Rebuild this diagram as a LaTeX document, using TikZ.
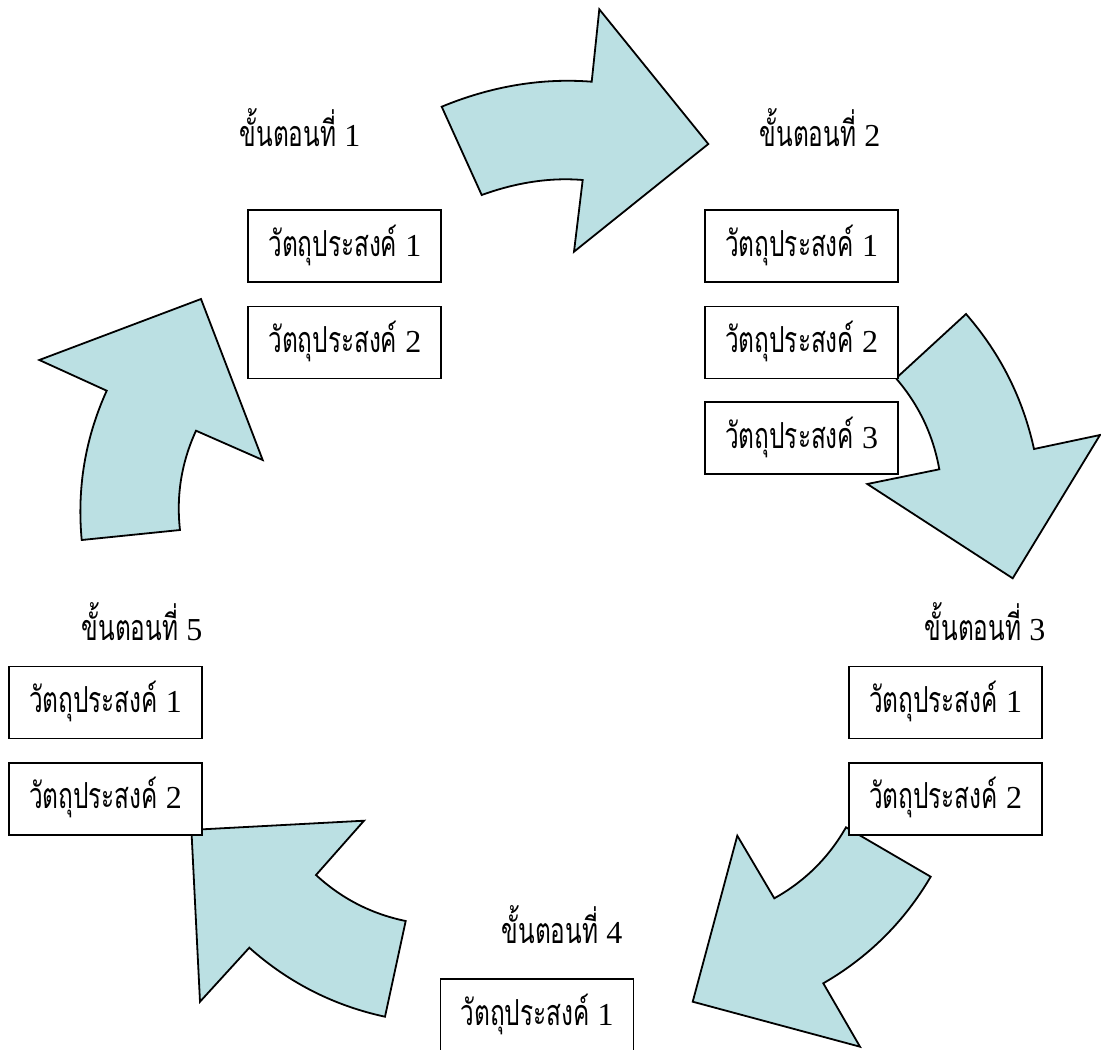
\documentclass[tikz,border=0pt]{standalone}
\usepackage{fontspec}
\setmainfont{Liberation Serif}
\newfontfamily\thai[Script=Thai,FakeStretch=0.68,Scale=1.12]{Loma}
\definecolor{arrowfill}{RGB}{187,224,227}
\newcommand{\objtext}[1]{{\thai วัตถุประสงค์}\ #1}
\newcommand{\steptext}[1]{{\thai ขั้นตอนที่}\ #1}
\begin{document}
\begin{tikzpicture}[x=1pt,y=-1pt,
  cyc/.style={fill=arrowfill,draw=black,line width=1.8pt,line join=miter},
  objbox/.style={draw=black,fill=white,line width=1.8pt,minimum width=193pt,minimum height=72pt,inner sep=0pt,text height=20pt,text depth=0pt,font=\fontsize{32}{36}\selectfont},
  steplabel/.style={anchor=base,inner sep=0pt,font=\fontsize{32}{36}\selectfont}]
\useasboundingbox (0,0) rectangle (1101,1050);
\clip (0,0) rectangle (1101,1050);
% arrows
\draw[cyc] (441.7,106.7) .. controls (491.7,86.1) and (541.7,77.8) .. (591.7,81.7) -- (599.3,9.3) -- (708.3,144) -- (574,251.7) -- (582.7,180) .. controls (550.5,177.3) and (516.8,182.3) .. (481.7,195) -- cycle;
\draw[cyc] (966,314) .. controls (1000.2,353.2) and (1022.9,398.2) .. (1034,449) -- (1100,435) -- (1012.7,578.3) -- (867.3,484) -- (939.3,469.3) .. controls (933.2,435.0) and (918.8,404.7) .. (896,378.3) -- cycle;
\draw[cyc] (930.7,876.7) .. controls (904.3,921.7) and (868.5,957.2) .. (823.3,983.3) -- (860,1046.7) -- (692.7,1001.7) -- (737.3,835.7) -- (774.3,898.3) .. controls (804.8,881.3) and (828.7,857.6) .. (846,827.3) -- cycle;
\draw[cyc] (385,1016.7) -- (405.7,921) .. controls (371.6,914) and (341.7,898.7) .. (316,875) -- (364,820.7) -- (191.4,829.9) -- (200,1001.7) -- (249.3,947.7) .. controls (288.5,982.6) and (333.7,1005.6) .. (385,1016.7) -- cycle;
\draw[cyc] (81.7,540) .. controls (76.9,488) and (85.2,438.2) .. (106.7,390.7) -- (39.3,360) -- (201,299) -- (262.7,460) -- (196,430.7) .. controls (181.5,462.3) and (176.1,495.4) .. (180,530) -- cycle;
% step 1
\node[steplabel] (t1) at (300,146.7) {\steptext{1}};
\node[objbox] (s1a) at (344.8,246.3) {\objtext{1}};
\node[objbox] (s1b) at (344.8,342.5) {\objtext{2}};
% step 2
\node[steplabel] (t2) at (820,146.7) {\steptext{2}};
\node[objbox] (s2a) at (801.7,246.3) {\objtext{1}};
\node[objbox] (s2b) at (801.7,342.5) {\objtext{2}};
\node[objbox] (s2c) at (801.7,438.3) {\objtext{3}};
% step 3
\node[steplabel] (t3) at (985,640) {\steptext{3}};
\node[objbox] (s3a) at (945.5,702.5) {\objtext{1}};
\node[objbox] (s3b) at (945.5,798.8) {\objtext{2}};
% step 4
\node[steplabel] (t4) at (562,943.3) {\steptext{4}};
\node[objbox] (s4a) at (537,1015) {\objtext{1}};
% step 5
\node[steplabel] (t5) at (142,640) {\steptext{5}};
\node[objbox] (s5a) at (105.5,702.5) {\objtext{1}};
\node[objbox] (s5b) at (105.5,798.8) {\objtext{2}};
\end{tikzpicture}
\end{document}
